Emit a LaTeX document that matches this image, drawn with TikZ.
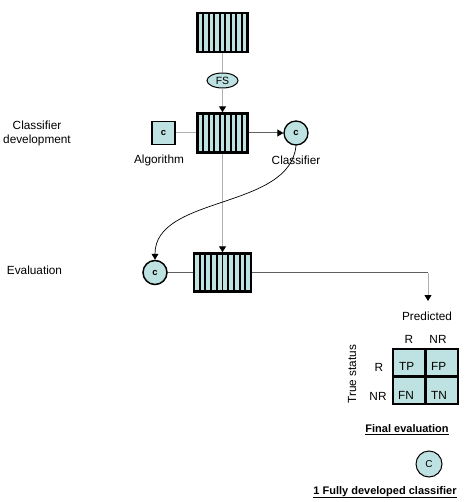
\documentclass[tikz,border=0pt]{standalone}
\usepackage{fontspec}
\setmainfont{Liberation Sans}
\usetikzlibrary{arrows.meta,calc,shapes.geometric}
\definecolor{cy}{RGB}{190,226,226}
\definecolor{lgrey}{RGB}{175,175,175}
\definecolor{dgrey}{RGB}{95,95,95}
\tikzset{
  lbl/.style={font=\fontsize{11.8}{14.5}\selectfont, inner sep=0pt, align=center},
  bold/.style={font=\fontsize{11}{14}\selectfont\bfseries, inner sep=0pt},
  stripes/.style={path picture={
    \foreach \k [evaluate=\k as \f using \k/(#1+1)] in {1,...,#1}{
      \draw[line width=1.9pt]
        ($(path picture bounding box.north west)!\f!(path picture bounding box.north east)$) --
        ($(path picture bounding box.south west)!\f!(path picture bounding box.south east)$);}}},
  boxA/.style={draw=black, line width=2.4pt, fill=cy, rectangle, minimum width=50pt, minimum height=39pt, inner sep=0pt, stripes=8},
  boxB/.style={draw=black, line width=2.4pt, fill=cy, rectangle, minimum width=57pt, minimum height=38pt, inner sep=0pt, stripes=9},
  circ/.style={draw=black, line width=1.3pt, fill=cy, circle, minimum size=24pt, inner sep=0pt, font=\fontsize{9.5}{10}\selectfont\bfseries},
  sq/.style={draw=black, line width=1.3pt, fill=cy, rectangle, minimum size=23pt, inner sep=0pt, font=\fontsize{9.5}{10}\selectfont\bfseries},
  fsnode/.style={draw=black, line width=1pt, fill=cy, ellipse, minimum width=31pt, minimum height=15pt, inner sep=0pt, font=\fontsize{10.5}{11}\selectfont},
  cell/.style={draw=black, line width=2.2pt, fill=cy, rectangle, minimum width=32.5pt, minimum height=27.5pt, inner sep=0pt},
  tip/.style={-{Triangle[width=7pt,length=6pt,color=black]}},
  gline/.style={draw=lgrey, line width=1pt},
  dline/.style={draw=dgrey, line width=1pt},
}
\begin{document}
\begin{tikzpicture}[x=1pt,y=-1pt]
\useasboundingbox (0,0) rectangle (472,502);
% boxes
\node[boxA] (top) at (222.5,32.5) {};
\node[fsnode] (fs) at (222.5,80.5) {FS};
\node[boxA] (mid) at (222.5,133) {};
\node[sq] (alg) at (163.5,133) {c};
\node[lbl] (algl) at (159,160) {Algorithm};
\node[circ] (cl) at (296,133) {c};
\node[lbl] (cll) at (296,160) {Classifier};
\node[lbl] (cd) at (37,133.5) {Classifier\\development};
\node[boxB] (ev) at (222.5,272.5) {};
\node[circ, line width=1.5pt] (ec) at (155,272.5) {c};
\node[lbl] (evl) at (34.5,270) {Evaluation};
\coordinate (corner) at (428,272.5);
\coordinate (end) at (428,301);
% connectors
\draw[gline] (top) -- (fs);
\draw[gline, tip] (fs) -- (mid.north);
\draw[gline, tip] (mid) -- (ev.north);
\draw[gline] (alg) -- (mid);
\draw[dline, tip] (mid.east) -- (cl.west);
\draw[black, line width=0.7pt, tip] (cl.south) .. controls (290,210) and (155,195) .. (ec.north);
\draw[dline] (ec) -- (ev);
\draw[dline] (ev.east) -- (corner);
\draw[gline, tip] (corner) -- (end);
% confusion matrix
\node[lbl] (pred) at (427,316) {Predicted};
\node[lbl] (cr) at (409,339) {R};
\node[lbl] (cnr) at (438,339) {NR};
\node[lbl, rotate=90] (ts) at (352,374) {True status};
\node[lbl] (rr) at (379,367) {R};
\node[lbl] (rnr) at (378,396) {NR};
\node[cell] (tp) at (409.25,362.75) {};
\node[cell] (fp) at (441.75,362.75) {};
\node[cell] (fn) at (409.25,390.25) {};
\node[cell] (tn) at (441.75,390.25) {};
\node[lbl, anchor=west] (tpl) at (399,366) {TP};
\node[lbl, anchor=west] (fpl) at (431,366) {FP};
\node[lbl, anchor=west] (fnl) at (398,395) {FN};
\node[lbl, anchor=west] (tnl) at (431,395) {TN};
% final
\node[bold, anchor=base] (fe) at (407,432) {Final evaluation};
\draw[black, line width=0.9pt] ($(fe.base west)+(0,2.2)$) -- ($(fe.base east)+(0,2.2)$);
\node[circ, line width=1pt, font=\fontsize{10}{11}\selectfont, minimum size=26pt] (fc) at (429,464) {C};
\node[bold, anchor=base] (fd) at (385,494) {1 Fully developed classifier};
\draw[black, line width=0.9pt] ($(fd.base west)+(0,3.5)$) -- ($(fd.base east)+(0,3.5)$);
\end{tikzpicture}
\end{document}
